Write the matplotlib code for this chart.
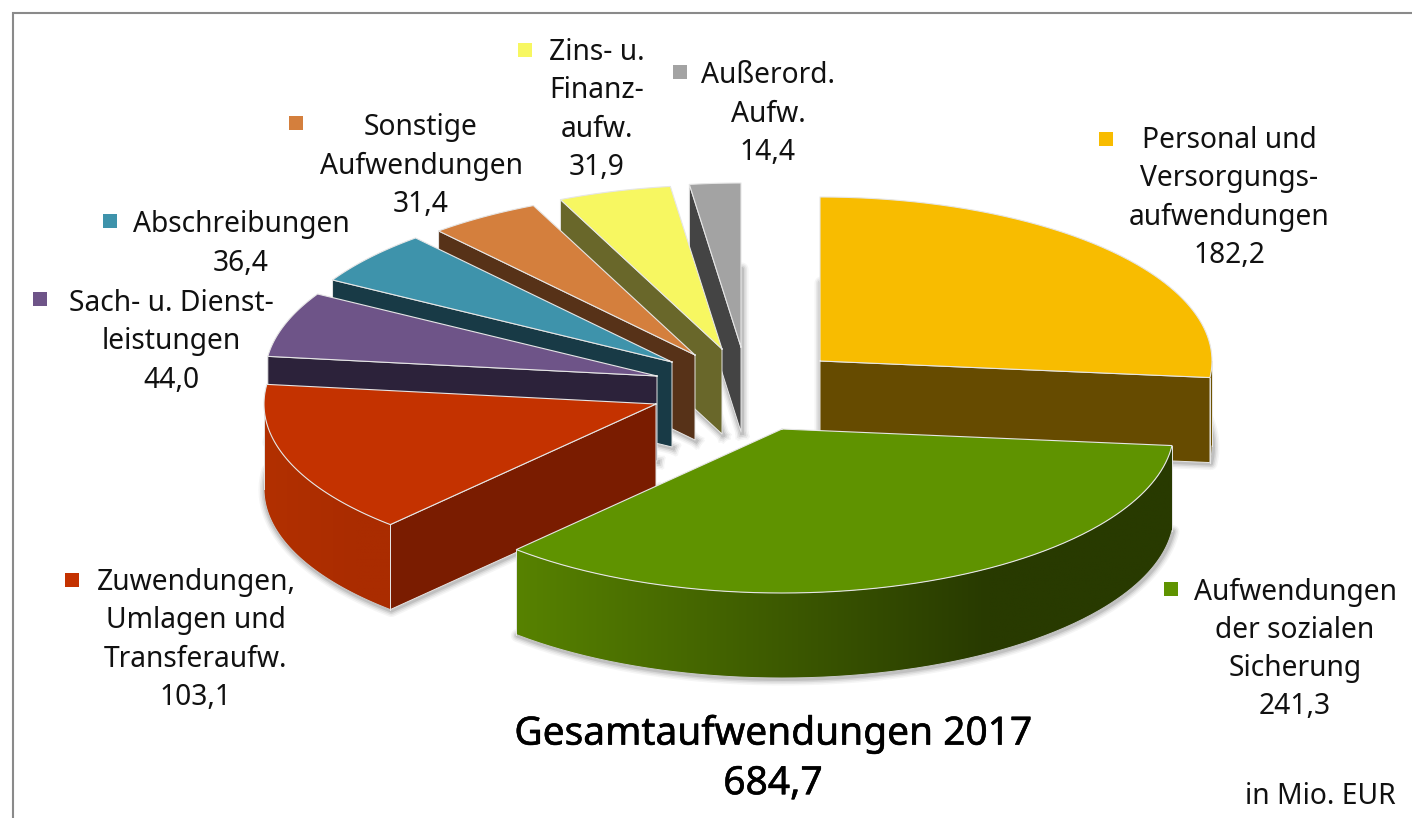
import numpy as np
import matplotlib
matplotlib.use('Agg')
import matplotlib.pyplot as plt
import matplotlib.patheffects as pe
from matplotlib.colors import to_rgb
from matplotlib.patches import Polygon

names = ['Personal und\nVersorgungs-\naufwendungen',
         'Aufwendungen\nder sozialen\nSicherung',
         'Zuwendungen,\nUmlagen und\nTransferaufw.',
         'Sach- u. Dienst-\nleistungen',
         'Abschreibungen',
         'Sonstige\nAufwendungen',
         'Zins- u.\nFinanz-\naufw.',
         'Außerord.\nAufw.']
values = [182.2, 241.3, 103.1, 44.0, 36.4, 31.4, 31.9, 14.4]
total_label = 'Gesamtaufwendungen 2017\n684,7'
unit_label = 'in Mio. EUR'

top_colors = ['#F8BC00', '#5F9300', '#C43200', '#6E5488', '#3E93AB', '#D47F3D', '#F7F761', '#A3A3A3']
wall_colors = ['#664B00', '#2A3B00', '#7A1C00', '#2C223A', '#183A46', '#573218', '#69672A', '#444444']
# outer rim goes from first colour (left) to second (right)
rim_colors = [('#6E5200', '#6E5200'), ('#578200', '#283A00'), ('#B23000', '#AA2C00'),
              ('#2C223A', '#2C223A'), ('#183A46', '#183A46'), ('#573218', '#573218'),
              ('#69672A', '#69672A'), ('#444444', '#444444')]

# exploded slice apex in pixels, and pie shape
apex = [(820, 361), (782, 429), (656, 404), (657, 376), (672, 362), (695, 355), (722, 349), (741, 347)]
rx, ry, depth = 392, 164, 85
draw_order = [0, 7, 6, 5, 4, 3, 2, 1]

label_pos = [(1229, 198), (1295, 649), (196, 640), (171, 342), (241, 244), (421, 166), (597, 110), (768, 114)]
marker_pos = [(1106, 139), (1171, 589), (72, 580), (40, 299), (110, 221), (296, 123), (525, 50), (680, 72)]

plt.rcParams['font.family'] = ['Noto Sans', 'DejaVu Sans']

fig = plt.figure(figsize=(14.12, 8.18), dpi=100)
ax = fig.add_axes([0, 0, 1, 1])
ax.axis('off')

fractions = np.array(values) / sum(values)
ends = np.cumsum(fractions) * 360
starts = ends - fractions * 360


def rim(i, a, b):
    t = np.radians(np.linspace(a, b, max(2, int(abs(b - a) * 2) + 1)))
    return apex[i][0] + rx * np.sin(t), apex[i][1] - ry * np.cos(t)


# soft shadow of the bottom faces, below everything else
for i in range(len(values)):
    x, y = rim(i, starts[i], ends[i])
    bx = np.r_[apex[i][0], x, apex[i][0]]
    by = np.r_[apex[i][1], y, apex[i][1]] + depth
    for lw, al in [(13, 0.05), (10, 0.07), (7, 0.1), (4, 0.14)]:
        ax.plot(bx + 1, by + 1, color='#404040', lw=lw * 0.72, alpha=al, solid_joinstyle='round', zorder=1)

line_col = '#E6E6E6'
z = 2
for i in draw_order:
    cx, cy = apex[i]
    x, y = rim(i, starts[i], ends[i])

    # flat cut walls
    if starts[i] >= 180:
        wx = [cx, x[0], x[0], cx]
        wy = [cy, y[0], y[0] + depth, cy + depth]
        ax.fill(wx, wy, color=wall_colors[i], lw=0, zorder=z)
        ax.plot(wx + wx[:1], wy + wy[:1], color=line_col, lw=0.7, zorder=z)
    if ends[i] <= 180:
        wx = [cx, x[-1], x[-1], cx]
        wy = [cy, y[-1], y[-1] + depth, cy + depth]
        ax.fill(wx, wy, color=wall_colors[i], lw=0, zorder=z)
        ax.plot(wx + wx[:1], wy + wy[:1], color=line_col, lw=0.7, zorder=z)

    # outer rim, a gradient image clipped to the rim shape
    a = max(starts[i], 90)
    b = min(ends[i], 270)
    if a < b:
        px, py = rim(i, a, b)
        left = min(px)
        right = max(px)
        c0 = np.array(to_rgb(rim_colors[i][0]))
        c1 = np.array(to_rgb(rim_colors[i][1]))
        # colour levels off in the right part
        f = np.clip(np.linspace(0, 1, 256) / 0.72, 0, 1)[:, None]
        grad = (c0 * (1 - f) + c1 * f)[None, :, :]
        im = ax.imshow(grad, extent=[left, right, max(py) + depth, min(py)], aspect='auto',
                       interpolation='bilinear', zorder=z)
        shape = np.c_[np.r_[px, px[::-1]], np.r_[py, py[::-1] + depth]]
        im.set_clip_path(Polygon(shape, transform=ax.transData))
        ax.plot(px, py + depth, color='#C8C8C8', lw=0.7, zorder=z)
        ax.plot([px[-1], px[-1]], [py[-1], py[-1] + depth], color=line_col, lw=0.7, zorder=z)
        ax.plot([px[0], px[0]], [py[0], py[0] + depth], color=line_col, lw=0.7, zorder=z)

    # top face
    tx = np.r_[cx, x]
    ty = np.r_[cy, y]
    ax.fill(tx, ty, color=top_colors[i], lw=0, zorder=z)
    ax.plot(np.r_[tx, cx], np.r_[ty, cy], color=line_col, lw=0.8, zorder=z)
    z += 1

# labels and their small squares
for i in range(len(values)):
    txt = names[i] + '\n' + f'{values[i]:.1f}'.replace('.', ',')
    ax.text(label_pos[i][0], label_pos[i][1], txt, ha='center', va='center', fontsize=20.3,
            linespacing=1.41, color='#111111', zorder=30)
    ax.scatter([marker_pos[i][0]], [marker_pos[i][1]], marker='s', s=110, color=top_colors[i], lw=0, zorder=30)

ax.text(773, 759, total_label, ha='center', va='center', fontsize=28, linespacing=1.4,
        color='black', zorder=30, path_effects=[pe.withStroke(linewidth=0.4, foreground='black')])
ax.text(1396, 797, unit_label, ha='right', va='center', fontsize=20.3, color='#111111', zorder=30)

# thin frame along the left and top
ax.plot([12.5, 12.5, 1412], [818, 12.5, 12.5], color='#8A8A8A', lw=1.5, solid_joinstyle='miter', zorder=0)

ax.set_xlim(0, 1412)
ax.set_ylim(818, 0)
fig.savefig('out.png', dpi=100)
